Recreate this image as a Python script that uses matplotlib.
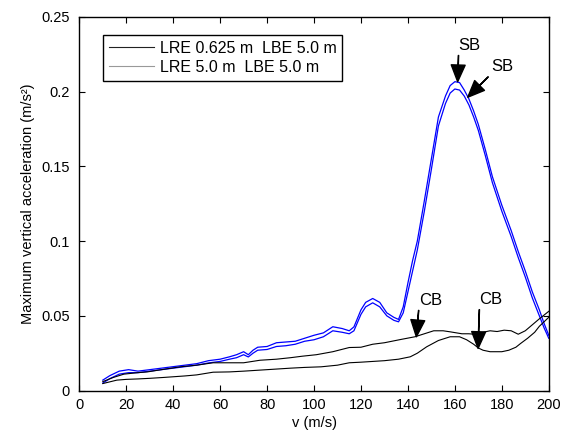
#!/usr/bin/env python3
"""
Maximum vertical acceleration vs speed - SB / CB peaks
"""

import matplotlib
matplotlib.use("Agg")
import matplotlib.pyplot as plt
from matplotlib.lines import Line2D

plt.rcParams['font.family'] = ['Liberation Sans', 'DejaVu Sans']

# blue curves (upper and lower)
v_blue = [10, 13, 17, 21, 25, 30, 35, 40, 45, 50, 55, 60, 64, 67, 70, 72, 74, 76,
          80, 84, 88, 92, 96, 100, 104, 108, 112, 115, 117, 120, 122, 125, 128,
          131, 134, 136, 138, 140, 142, 144, 147, 150, 153, 156, 158, 160, 162,
          164, 166, 168, 170, 173, 176, 180, 184, 187, 190, 193, 196, 198, 200]
blue_upper = [0.007, 0.010, 0.013, 0.014, 0.013, 0.014, 0.015, 0.016, 0.017, 0.018,
              0.020, 0.021, 0.0226, 0.024, 0.026, 0.024, 0.027, 0.029, 0.0295, 0.032,
              0.0325, 0.033, 0.035, 0.037, 0.0386, 0.0427, 0.0415, 0.040, 0.0426,
              0.054, 0.059, 0.0616, 0.059, 0.052, 0.049, 0.0476, 0.056, 0.072, 0.087,
              0.100, 0.127, 0.155, 0.183, 0.197, 0.204, 0.2066, 0.206, 0.201, 0.195,
              0.187, 0.178, 0.161, 0.143, 0.124, 0.107, 0.093, 0.080, 0.066, 0.054,
              0.045, 0.037]
blue_lower = [0.005, 0.008, 0.011, 0.012, 0.012, 0.013, 0.014, 0.015, 0.016, 0.017,
              0.0185, 0.0195, 0.021, 0.022, 0.024, 0.0225, 0.025, 0.027, 0.0275, 0.0295,
              0.030, 0.031, 0.033, 0.034, 0.036, 0.040, 0.039, 0.038, 0.040,
              0.051, 0.056, 0.0587, 0.056, 0.050, 0.047, 0.046, 0.052, 0.066, 0.080,
              0.094, 0.120, 0.148, 0.177, 0.192, 0.199, 0.2017, 0.201, 0.197, 0.191,
              0.183, 0.174, 0.157, 0.139, 0.120, 0.103, 0.089, 0.076, 0.062, 0.050,
              0.042, 0.035]

# black curves
v_k1 = [10, 14.5, 19, 25, 29, 35, 43, 50, 57, 64, 70, 77, 84, 90, 95, 101, 108, 115,
        120, 125, 130, 137, 143, 147, 151, 155, 158, 163, 166, 169.5, 172, 175, 178,
        181, 184, 187, 190, 193, 196, 198, 200]
k1 = [0.006, 0.0088, 0.011, 0.012, 0.0125, 0.014, 0.0159, 0.017, 0.0186, 0.0186,
      0.0186, 0.0203, 0.021, 0.022, 0.023, 0.024, 0.026, 0.0288, 0.029, 0.031, 0.032,
      0.0342, 0.036, 0.038, 0.040, 0.040, 0.0393, 0.038, 0.038, 0.0375, 0.039, 0.040,
      0.0395, 0.0404, 0.040, 0.0377, 0.040, 0.044, 0.048, 0.0505, 0.053]

v_k2 = [10, 16, 20, 25, 30, 36, 45, 50, 57, 64, 70, 81, 90, 96, 103, 110, 115, 120,
        130, 136, 141, 144, 148, 153, 158, 162, 165, 168, 170, 172, 175, 180, 183, 186,
        188, 191, 194, 196, 198, 200]
k2 = [0.0047, 0.007, 0.0075, 0.0078, 0.0082, 0.0088, 0.0098, 0.0105, 0.0123, 0.0125,
      0.013, 0.0141, 0.015, 0.0155, 0.0159, 0.017, 0.0186, 0.019, 0.020, 0.021, 0.0226,
      0.025, 0.0293, 0.0335, 0.036, 0.036, 0.034, 0.031, 0.0285, 0.027, 0.026, 0.026,
      0.027, 0.029, 0.0315, 0.035, 0.039, 0.043, 0.046, 0.049]

legend_labels = ['LRE 0.625 m  LBE 5.0 m', 'LRE 5.0 m  LBE 5.0 m']

# annotations: (label, tip, text position)
notes = [
    ('SB', (161.2, 0.2066), (166.3, 0.231)),
    ('SB', (165.5, 0.1962), (180.1, 0.2167)),
    ('CB', (143.6, 0.036), (149.6, 0.0605)),
    ('CB', (169.9, 0.0282), (175.4, 0.061)),
]


def main():
    fig = plt.figure(figsize=(5.69, 4.37), dpi=100)
    ax = fig.add_axes([0.1394, 0.1062, 0.8250, 0.8554])

    ax.plot(v_blue, blue_upper, color='#0000ff', lw=0.9)
    ax.plot(v_blue, blue_lower, color='#0000ff', lw=0.9)
    ax.plot(v_k1, k1, color='black', lw=0.8)
    ax.plot(v_k2, k2, color='black', lw=0.8)

    for label, tip, txt in notes:
        ax.annotate(label, xy=tip, xytext=txt, ha='center', va='center',
                    fontsize=12,
                    arrowprops=dict(facecolor='black', edgecolor='black',
                                    width=0.2, headwidth=10, headlength=12,
                                    shrink=0.0))

    handles = [Line2D([], [], color='#222222', lw=0.8),
               Line2D([], [], color='#999999', lw=0.8)]
    leg = ax.legend(handles, legend_labels, loc='upper left',
                    bbox_to_anchor=(0.051, 0.95), borderaxespad=0,
                    fancybox=False, framealpha=1, edgecolor='black',
                    fontsize=11.5, handlelength=2.8, handletextpad=0.4,
                    labelspacing=0.25, borderpad=0.35)
    leg.get_frame().set_linewidth(1.0)

    ax.set_xlim(0, 200)
    ax.set_ylim(0, 0.25)
    ax.set_xticks(range(0, 201, 20))
    ax.set_yticks([0, 0.05, 0.1, 0.15, 0.2, 0.25])
    ax.set_yticklabels(['0', '0.05', '0.1', '0.15', '0.2', '0.25'])
    ax.tick_params(direction='in', top=True, right=True, labelsize=10.5,
                   length=4, width=0.8)
    ax.tick_params(axis='y', pad=7)
    ax.tick_params(axis='x', pad=5.5)
    for s in ax.spines.values():
        s.set_linewidth(1.0)

    ax.set_xlabel('v (m/s)', fontsize=10.5, labelpad=3)
    ax.set_ylabel('Maximum vertical acceleration (m/s\u00b2)', fontsize=10.5,
                  labelpad=4)

    fig.savefig('out.png', dpi=100)


if __name__ == "__main__":
    main()
